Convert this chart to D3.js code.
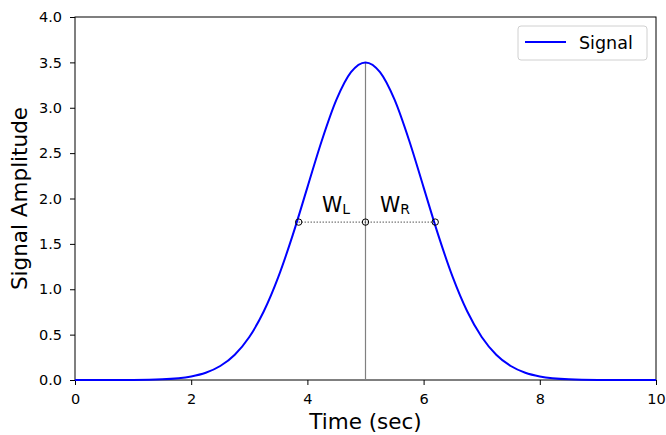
<!DOCTYPE html>
<html>
<head>
<meta charset="utf-8">
<script src="https://cdn.jsdelivr.net/npm/d3@7"></script>
<style>
  body { margin: 0; background: #fff; }
  text { font-family: "DejaVu Sans", sans-serif; }
</style>
</head>
<body>
<div id="chart"></div>
<script>
// signal samples (time in sec, amplitude)
var times = [0, 0.5, 1, 1.5, 2, 2.25, 2.5, 2.75, 3, 3.25, 3.5, 3.75, 4, 4.25, 4.5, 4.75, 5,
             5.25, 5.5, 5.75, 6, 6.25, 6.5, 6.75, 7, 7.25, 7.5, 7.75, 8, 8.5, 9, 9.5, 10];
var amps = [0, 0.0001, 0.0012, 0.0077, 0.039, 0.080, 0.154, 0.279, 0.474, 0.757, 1.136, 1.602, 2.123, 2.642, 3.089, 3.392, 3.5,
            3.392, 3.089, 2.642, 2.123, 1.602, 1.136, 0.757, 0.474, 0.279, 0.154, 0.080, 0.039, 0.0077, 0.0012, 0.0001, 0];
var halfMax = 1.74;
var halfPoints = [3.85, 5, 6.2];
var peakTime = 5, peakAmp = 3.5;
var xTicks = [0, 2, 4, 6, 8, 10];
var yTicks = [0, 0.5, 1, 1.5, 2, 2.5, 3, 3.5, 4];

var margin = {top: 17, right: 10, bottom: 55, left: 75},
    width = 656 - margin.left,
    height = 380 - margin.top;

var svg = d3.select("#chart")
  .append("svg")
  .attr("width", 666)
  .attr("height", 435)
  .append("g")
  .attr("transform", "translate(" + margin.left + "," + margin.top + ")");

var x = d3.scaleLinear().domain([0, 10]).range([0, width]);
var y = d3.scaleLinear().domain([0, 4]).range([height, 0]);

// axes
var xAxis = svg.append("g")
  .attr("transform", "translate(0," + height + ")")
  .call(d3.axisBottom(x).tickValues(xTicks).tickSize(5).tickPadding(9).tickFormat(d3.format("d")));
var yAxis = svg.append("g")
  .call(d3.axisLeft(y).tickValues(yTicks).tickSize(5).tickPadding(8).tickFormat(d3.format(".1f")));
[xAxis, yAxis].forEach(function(a) {
  a.selectAll("text").style("font-size", "14.5px").attr("fill", "#000");
  a.selectAll("line").attr("stroke", "#000");
  a.select(".domain").remove();
});

// frame
svg.append("rect")
  .attr("width", width).attr("height", height)
  .attr("fill", "none").attr("stroke", "#000").attr("stroke-width", 1);

// peak marker
svg.append("line")
  .attr("x1", x(peakTime)).attr("x2", x(peakTime))
  .attr("y1", y(peakAmp)).attr("y2", y(0))
  .attr("stroke", "#808080").attr("stroke-width", 1.2);

// signal
var line = d3.line()
  .x(function(d, i) { return x(times[i]); })
  .y(function(d) { return y(d); })
  .curve(d3.curveMonotoneX);

svg.append("path")
  .datum(amps)
  .attr("fill", "none")
  .attr("stroke", "#0000ff")
  .attr("stroke-width", 2)
  .attr("d", line);

// half-width line and points
svg.append("line")
  .attr("x1", x(halfPoints[0])).attr("x2", x(halfPoints[2]))
  .attr("y1", y(halfMax)).attr("y2", y(halfMax))
  .attr("stroke", "#000").attr("stroke-width", 1).attr("stroke-dasharray", "1,2");

svg.selectAll(".hp")
  .data(halfPoints)
  .enter()
  .append("circle")
  .attr("cx", function(d) { return x(d); })
  .attr("cy", y(halfMax))
  .attr("r", 3.2)
  .attr("fill", "none").attr("stroke", "#000").attr("stroke-width", 1);

// W labels
function wLabel(tx, sub) {
  var t = svg.append("text")
    .attr("x", x(tx)).attr("y", y(halfMax) - 10)
    .style("font-size", "20.5px").attr("fill", "#000");
  t.append("tspan").text("W");
  t.append("tspan").text(sub).attr("dy", 2).style("font-size", "14px");
}
wLabel(4.25, "L");
wLabel(5.25, "R");

// axis labels
svg.append("text")
  .attr("x", width / 2).attr("y", height + 49)
  .attr("text-anchor", "middle")
  .style("font-size", "21.5px")
  .text("Time (sec)");

svg.append("text")
  .attr("transform", "rotate(-90)")
  .attr("x", -height / 2).attr("y", -48)
  .attr("text-anchor", "middle")
  .style("font-size", "21.5px")
  .text("Signal Amplitude");

// legend
var lg = svg.append("g").attr("transform", "translate(" + (width - 138) + ",9)");
lg.append("rect")
  .attr("width", 129).attr("height", 34).attr("rx", 3)
  .attr("fill", "#fff").attr("stroke", "#d0d0d0");
lg.append("line")
  .attr("x1", 7).attr("x2", 48).attr("y1", 16).attr("y2", 16)
  .attr("stroke", "#0000ff").attr("stroke-width", 2);
lg.append("text")
  .attr("x", 61).attr("y", 22.5)
  .style("font-size", "17.5px")
  .text("Signal");
</script>
</body>
</html>
